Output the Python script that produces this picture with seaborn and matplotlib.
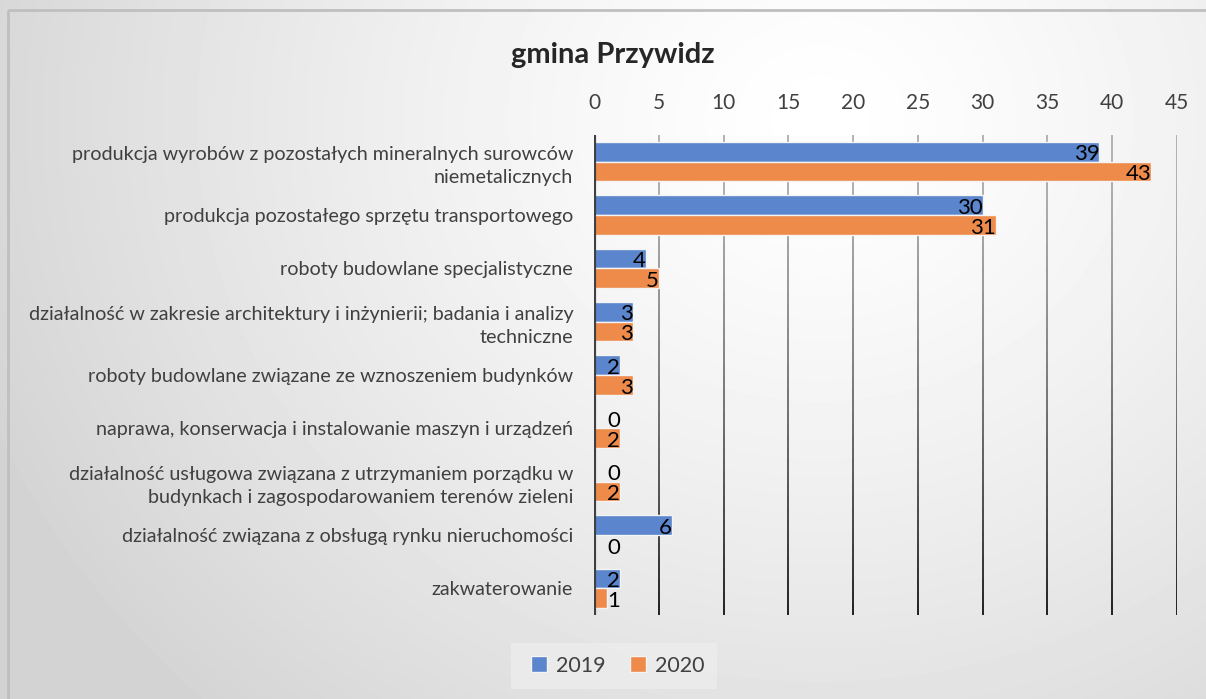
import numpy as np
import pandas as pd
import seaborn as sns
import matplotlib.pyplot as plt
from matplotlib.lines import Line2D
from matplotlib.patches import Rectangle

categories = [
    "produkcja wyrobów z pozostałych mineralnych surowców\nniemetalicznych",
    "produkcja pozostałego sprzętu transportowego",
    "roboty budowlane specjalistyczne",
    "działalność w zakresie architektury i inżynierii; badania i analizy\ntechniczne",
    "roboty budowlane związane ze wznoszeniem budynków",
    "naprawa, konserwacja i instalowanie maszyn i urządzeń",
    "działalność usługowa związana z utrzymaniem porządku w\nbudynkach i zagospodarowaniem terenów zieleni",
    "działalność związana z obsługą rynku nieruchomości",
    "zakwaterowanie",
]
values_2019 = [39, 30, 4, 3, 2, 0, 0, 6, 2]
values_2020 = [43, 31, 5, 3, 3, 2, 2, 0, 1]
years = ["2019", "2020"]
x_ticks = [0, 5, 10, 15, 20, 25, 30, 35, 40, 45]

df = pd.DataFrame({
    "kategoria": categories * 2,
    "rok": [years[0]] * len(categories) + [years[1]] * len(categories),
    "liczba": values_2019 + values_2020,
})

sns.set_style("white")
plt.rcParams["font.family"] = ["Lato", "DejaVu Sans"]

W, H = 1206, 699
fig = plt.figure(figsize=(W / 100, H / 100), dpi=100)

# background with a soft radial gradient and a thin frame
bg = fig.add_axes([0, 0, 1, 1], zorder=-10)
yy, xx = np.mgrid[0:H, 0:W]
d = np.sqrt(((xx - 820) / 1.0) ** 2 + ((yy - 120) / 0.9) ** 2)
shade = 1.0 - 0.17 * np.clip(d / 900, 0, 1) ** 1.3
bg.imshow(shade, cmap="gray", vmin=0, vmax=1, aspect="auto",
          extent=[0, W, H, 0])
bg.add_patch(Rectangle((8, 10), W + 20, H + 20, fill=False,
                       edgecolor="#bfbfbf", lw=2))
bg.set_xlim(0, W)
bg.set_ylim(H, 0)
bg.axis("off")

ax = fig.add_axes([594 / W, 1 - 615 / H, (1177 - 594) / W, (615 - 135) / H])
ax.patch.set_alpha(0)

palette = {"2019": "#5b85cc", "2020": "#ee8b4b"}
sns.barplot(data=df, y="kategoria", x="liczba", hue="rok", orient="h",
            palette=palette, ax=ax, width=0.74, edgecolor="#f4f4f4",
            linewidth=1.0, saturation=1)

ax.set_xlim(0, 45)
ax.set_ylim(len(categories) - 0.5, -0.5)
ax.set_xticks(x_ticks)
ax.xaxis.tick_top()
ax.tick_params(axis="x", length=0, labelsize=15, labelcolor="#404040", pad=16)
ax.tick_params(axis="y", length=0, labelsize=14.2, labelcolor="#404040", pad=15)
for lbl in ax.get_yticklabels():
    lbl.set_horizontalalignment("right")
    lbl.set_multialignment("right")
    lbl.set_linespacing(1.4)
ax.set_xlabel("")
ax.set_ylabel("")
for s in ax.spines.values():
    s.set_visible(False)

# gridlines fading from gray (top) to nearly black (bottom)
n_seg = 40
ys = np.linspace(-0.5, len(categories) - 0.5, n_seg + 1)
for t in x_ticks[1:]:
    for i in range(n_seg):
        c = 0.68 - 0.63 * (i / n_seg) ** 1.4
        ax.plot([t, t], [ys[i], ys[i + 1]], color=(c, c, c), lw=1.3,
                zorder=0.5, solid_capstyle="butt")
ax.axvline(0, color="#404040", lw=3, zorder=3)

# value labels at the inner end of each bar
for cont, vals in zip(ax.containers, [values_2019, values_2020]):
    for bar, v in zip(cont.patches, vals):
        yc = bar.get_y() + bar.get_height() / 2
        ax.text(max(v, 2), yc + 0.05, str(v), ha="right", va="center",
                fontsize=16, color="black", zorder=5)

ax.get_legend().remove()
handles = [Line2D([], [], marker="s", ls="", markersize=12,
                  markerfacecolor=palette[y], markeredgecolor="#f4f4f4")
           for y in years]
leg = fig.legend(handles, years, loc="center", bbox_to_anchor=(614 / W, 1 - 666 / H),
                 ncol=2, frameon=True, fontsize=15.5, handletextpad=0.1,
                 columnspacing=0.8, borderpad=0.6, fancybox=False,
                 handlelength=1.4)
leg.get_frame().set_facecolor("#ededed")
leg.get_frame().set_edgecolor("none")
for txt in leg.get_texts():
    txt.set_color("#404040")

fig.text(613 / W, 1 - 55 / H, "gmina Przywidz", ha="center", va="center",
         fontsize=21, fontweight="bold", color="#262626")

fig.savefig("out.png", dpi=100)
